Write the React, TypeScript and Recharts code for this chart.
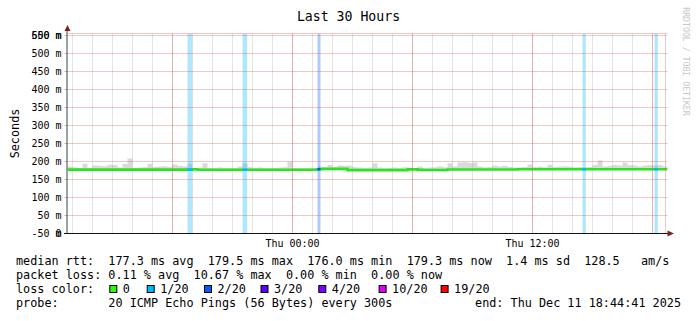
import React from 'react';
import { ComposedChart, Area, Line, XAxis, YAxis, ReferenceLine, ReferenceArea } from 'recharts';

const FONT = "'DejaVu Sans Mono', monospace";
const STEP = 15; // minutes per sample
const SPAN = 1800; // 30 hours in minutes, start Wed 12:45
const Y_MAX = 555.56;

// upper edge of the smoke (ms), one value per 15 minutes
const smokeTop = [
  186, 184, 182, 194, 182, 189, 188, 187, 191, 190,
  183, 193, 208, 182, 183, 184, 194, 185, 186, 187,
  185, 192, 188, 186, 194, 182, 183, 195, 182, 181,
  183, 181, 182, 182, 186, 195, 184, 182, 183, 181,
  181, 182, 183, 184, 199, 182, 181, 181, 182, 182,
  186, 184, 190, 185, 189, 188, 188, 184, 183, 182,
  183, 195, 183, 181, 182, 183, 182, 184, 183, 182,
  186, 182, 183, 184, 187, 184, 195, 186, 197, 198,
  196, 197, 186, 184, 185, 189, 186, 188, 185, 183,
  184, 185, 192, 185, 186, 184, 191, 185, 186, 187,
  186, 184, 185, 184, 185, 190, 203, 186, 188, 190,
  189, 197, 190, 189, 186, 189, 190, 189, 190, 186,
];

// median rtt (ms), one value per 15 minutes
const median = [
  177.5, 177.5, 177.5, 177.5, 177.5, 177.5, 177.5, 177.5, 177.5, 177.5,
  177.5, 177.5, 177.5, 177.5, 177.5, 177.5, 177.5, 177.5, 177.5, 177.5,
  177.5, 177.5, 177.5, 177.5, 177.5, 178.5, 177.0, 177.0, 177.0, 177.0,
  177.0, 177.0, 177.0, 177.0, 177.0, 177.0, 177.0, 177.0, 177.0, 177.0,
  177.0, 177.0, 177.0, 177.0, 177.0, 177.0, 177.0, 177.0, 177.0, 177.0,
  178.5, 179.5, 179.5, 179.5, 179.5, 179.5, 176.0, 176.0, 176.0, 176.0,
  176.0, 176.0, 176.0, 176.0, 176.0, 176.0, 176.0, 176.0, 178.0, 178.0,
  177.0, 176.2, 176.2, 176.2, 176.2, 176.2, 177.6, 177.6, 177.6, 177.6,
  177.6, 177.6, 177.6, 177.6, 177.6, 177.6, 177.6, 177.6, 177.6, 177.6,
  178.3, 178.3, 178.3, 178.3, 178.3, 178.3, 178.3, 178.3, 178.3, 178.3,
  178.3, 178.3, 178.3, 178.3, 178.3, 178.3, 178.3, 178.3, 178.3, 178.3,
  178.3, 178.3, 178.3, 178.3, 178.3, 178.3, 178.3, 178.3, 178.3, 178.3,
];

// loss events: [start minute, end minute, loss level index]
const lossEvents: [number, number, number][] = [
  [360, 374, 1],
  [525, 539, 1],
  [750, 759, 2],
  [1545, 1555, 1],
  [1761, 1771, 1],
];

const lossColors = ['#26ff00', '#00b8ff', '#0059ff', '#5e00ff', '#7e00ff', '#dd00ff', '#ff0000'];
const lossLabels = ['0', '1/20', '2/20', '3/20', '4/20', '10/20', '19/20'];
const lossBoxX = [109.3, 146.7, 204, 260.5, 318.3, 378.6, 440.6];

const yTicks = [0, 50, 100, 150, 200, 250, 300, 350, 400, 450, 500, 550];
const yTickLabels: Record<number, string[]> = { 0: ['-50 m', '0'], 550: ['550 m', '600 m'] };
const xLabelTicks = [675, 1395];
const xLabelText: Record<number, string> = { 675: 'Thu 00:00', 1395: 'Thu 12:00' };
const hourLines = Array.from({ length: 30 }, (_, k) => 15 + 60 * k);
const majorLines = [315, 675, 1035, 1395, 1755, 1794];

const legendRows = [
  'median rtt:  177.3 ms avg  179.5 ms max  176.0 ms min  179.3 ms now  1.4 ms sd  128.5   am/s',
  'packet loss: 0.11 % avg  10.67 % max  0.00 % min  0.00 % now',
];

const rows = smokeTop.map((top, i) => ({ t: i * STEP, med: median[i], smoke: [median[i] - 1, top] }));
rows.push({ t: SPAN, med: median[median.length - 1], smoke: [median[median.length - 1] - 1, smokeTop[smokeTop.length - 1]] });

const medAt = (t: number) => median[Math.min(median.length - 1, Math.floor(t / STEP))];

const YTick = (props: any) => {
  const { y, payload } = props;
  const v = payload.value as number;
  const labels = yTickLabels[v] || [`${v} m`];
  return (
    <g>
      {labels.map((l) => (
        <text key={l} x={61.5} y={y + 3.6} textAnchor="end" fontSize={10} fontFamily={FONT} fill="#000" style={{ whiteSpace: 'pre' }}>
          {l}
        </text>
      ))}
    </g>
  );
};

const XTick = (props: any) => {
  const { x, payload } = props;
  return (
    <text x={x} y={247.3} textAnchor="middle" fontSize={10} fontFamily={FONT} fill="#000">
      {xLabelText[payload.value] || ''}
    </text>
  );
};

export default function App() {
  return (
    <div style={{ position: 'absolute', left: 0, top: 0, width: 697, height: 321, background: '#fff' }}>
      <ComposedChart width={697} height={321} data={rows} margin={{ top: 33.5, right: 29.5, bottom: 67.5, left: 7.5 }}>
        <XAxis type="number" dataKey="t" domain={[0, SPAN]} ticks={xLabelTicks} tick={<XTick />} axisLine={false} tickLine={false} height={20} allowDataOverflow />
        <YAxis type="number" domain={[0, Y_MAX]} ticks={yTicks} tick={<YTick />} width={60} axisLine={false} tickLine={{ stroke: '#f0a8a8' }} tickSize={3} allowDataOverflow interval={0} />
        <Area type="stepAfter" dataKey="smoke" stroke="none" fill="#dadada" fillOpacity={1} isAnimationActive={false} activeDot={false} />
        {lossEvents.map(([a, b, lvl], i) => (
          <ReferenceArea key={'la' + i} x1={a} x2={b} y1={0} y2={Y_MAX} fill={lossColors[lvl]} fillOpacity={0.32} stroke="none" ifOverflow="hidden" />
        ))}
        <Line type="stepAfter" dataKey="med" stroke="#28e61c" strokeWidth={2.6} dot={false} activeDot={false} isAnimationActive={false} />
        {lossEvents.map(([a, b, lvl], i) => (
          <ReferenceLine key={'ls' + i} segment={[{ x: a, y: medAt(a) }, { x: b, y: medAt(a) }]} stroke={lossColors[lvl]} strokeWidth={2.6} />
        ))}
        {hourLines.map((h) => (
          <ReferenceLine key={'h' + h} x={h} stroke="#8f8f8f" strokeOpacity={0.25} strokeWidth={1} />
        ))}
        {majorLines.map((h) => (
          <ReferenceLine key={'m' + h} x={h} stroke="#de5050" strokeOpacity={0.32} strokeWidth={1} />
        ))}
        {[...yTicks.slice(1), Y_MAX].map((v) => (
          <ReferenceLine key={'y' + v} y={v} stroke="#de5050" strokeOpacity={0.32} strokeWidth={1} />
        ))}
      </ComposedChart>
      <svg width={697} height={321} style={{ position: 'absolute', left: 0, top: 0, pointerEvents: 'none' }}>
        <line x1={64} y1={233.5} x2={670} y2={233.5} stroke="#111" strokeWidth={1} />
        <line x1={67} y1={233.5} x2={67} y2={28} stroke="#2c4d43" strokeWidth={1} />
        <polygon points="667.5,230.5 674,233.5 667.5,236.5" fill="#7f1f1f" />
        <polygon points="64.5,31 67.5,25 70.5,31" fill="#7f1f1f" />
        <text x={348.5} y={21} textAnchor="middle" fontSize={13.2} fontFamily={FONT} fill="#000">Last 30 Hours</text>
        <text x={18.5} y={133.5} transform="rotate(-90 18.5 133.5)" textAnchor="middle" fontSize={11.8} fontFamily={FONT} fill="#000">Seconds</text>
        <text x={683} y={61.5} transform="rotate(90 683 61.5)" textAnchor="middle" fontSize={8.2} fontFamily={FONT} fill="#c8c8c8">RRDTOOL / TOBI OETIKER</text>
        {legendRows.map((r, i) => (
          <text key={i} x={16} y={265.3 + i * 14} fontSize={11.8} fontFamily={FONT} fill="#000" style={{ whiteSpace: 'pre' }}>{r}</text>
        ))}
        <text x={16} y={293.3} fontSize={11.8} fontFamily={FONT} fill="#000">loss color:</text>
        {lossLabels.map((l, i) => (
          <g key={l}>
            <rect x={lossBoxX[i] + 0.5} y={285.5} width={7} height={7} fill={lossColors[i]} stroke="#000" strokeWidth={1} />
            <text x={lossBoxX[i] + 13.5} y={293.3} fontSize={11.8} fontFamily={FONT} fill="#000">{l}</text>
          </g>
        ))}
        <text x={16} y={307.3} fontSize={11.8} fontFamily={FONT} fill="#000" style={{ whiteSpace: 'pre' }}>probe:       20 ICMP Echo Pings (56 Bytes) every 300s</text>
        <text x={681} y={307.3} textAnchor="end" fontSize={11.8} fontFamily={FONT} fill="#000">end: Thu Dec 11 18:44:41 2025</text>
      </svg>
    </div>
  );
}
